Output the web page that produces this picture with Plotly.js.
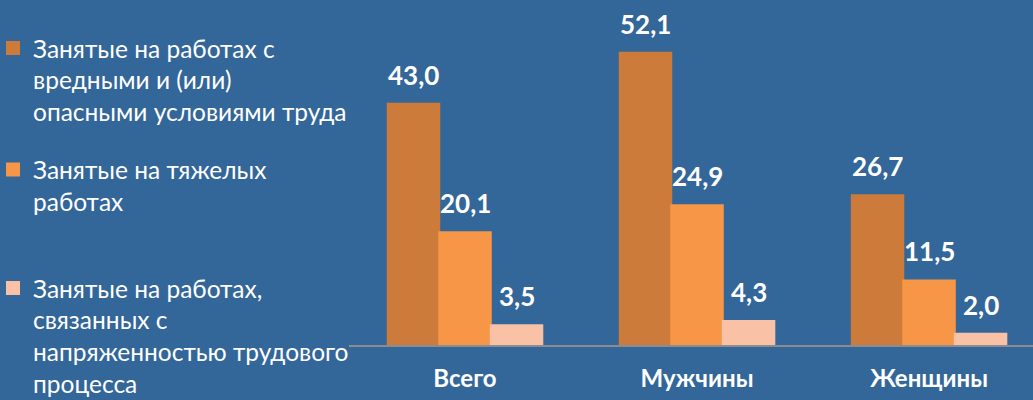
<!DOCTYPE html>
<html><head><meta charset="utf-8">
<script src="https://cdn.plot.ly/plotly-3.0.1.min.js"></script>
<style>html,body{margin:0;padding:0;background:#336699;}#chart{width:1033px;height:400px;}</style>
</head><body><div id="chart"></div>
<script>
const categories = ['Всего', 'Мужчины', 'Женщины'];
const seriesNames = [
  'Занятые на работах с<br>вредными и (или)<br>опасными условиями труда',
  'Занятые на тяжелых<br>работах',
  'Занятые на работах,<br>связанных с<br>напряженностью трудового<br>процесса'
];
const harmful = [43.0, 52.1, 26.7];
const heavy = [20.1, 24.9, 11.5];
const intense = [3.5, 4.3, 2.0];
const series = [harmful, heavy, intense];
const colors = ['#CD7B3A', '#F79646', '#F9C1A5'];
const legendNames = ['legend', 'legend2', 'legend3'];

const W = 1033, H = 400, ml = 349, mr = 0, mt = 0, mb = 55;
const xr = [-0.5, 2.448];
const bargap = 0.334;
const plotW = W - ml - mr;
const pxPerCat = plotW / (xr[1] - xr[0]);
const barPx = pxPerCat * (1 - bargap) / 3;

const traces = series.map((vals, i) => ({
  type: 'bar', x: categories, y: vals, name: seriesNames[i],
  marker: {color: colors[i], line: {color: colors[i], width: 2}},
  legend: legendNames[i], hoverinfo: 'skip'
}));

const fmt = v => v.toFixed(1).replace('.', ',');
const annotations = [];
series.forEach((vals, i) => {
  vals.forEach((v, j) => {
    annotations.push({
      x: categories[j], y: v, xref: 'x', yref: 'y', text: fmt(v), showarrow: false,
      xshift: (i - 1) * barPx, yshift: 29, yanchor: 'middle',
      font: {family: 'Lato, sans-serif', size: 26, color: '#FFFFFF', weight: 'bold'}
    });
  });
});

const legFont = {family: 'Lato, sans-serif', size: 24.5, color: '#FFFFFF'};
const legYs = [0.936, 0.632, 0.336];
const legX = (-7 - ml) / plotW;
const legendCfg = {};
legendNames.forEach((ln, i) => {
  legendCfg[ln] = {x: legX, y: legYs[i], xref: 'paper', yref: 'container', xanchor: 'left', yanchor: 'top',
    bgcolor: 'rgba(0,0,0,0)', borderwidth: 0, font: legFont, valign: 'top', itemclick: false, itemdoubleclick: false};
});

const layout = Object.assign({
  width: W, height: H,
  margin: {l: ml, r: mr, t: mt, b: mb, pad: 0, autoexpand: false},
  paper_bgcolor: '#336699', plot_bgcolor: '#336699',
  barmode: 'group', bargap: bargap, bargroupgap: 0,
  showlegend: true,
  xaxis: {type: 'category', range: xr, showgrid: false, zeroline: false,
    showline: true, linecolor: '#8C8C8C', linewidth: 2, ticks: '', ticklabelstandoff: 11,
    tickfont: {family: 'Lato, sans-serif', size: 24, color: '#FFFFFF', weight: 'bold'}},
  yaxis: {range: [0, 61.5], visible: false, showgrid: false, zeroline: false},
  annotations: annotations
}, legendCfg);

Plotly.newPlot('chart', traces, layout, {displayModeBar: false, staticPlot: true});
</script></body></html>
